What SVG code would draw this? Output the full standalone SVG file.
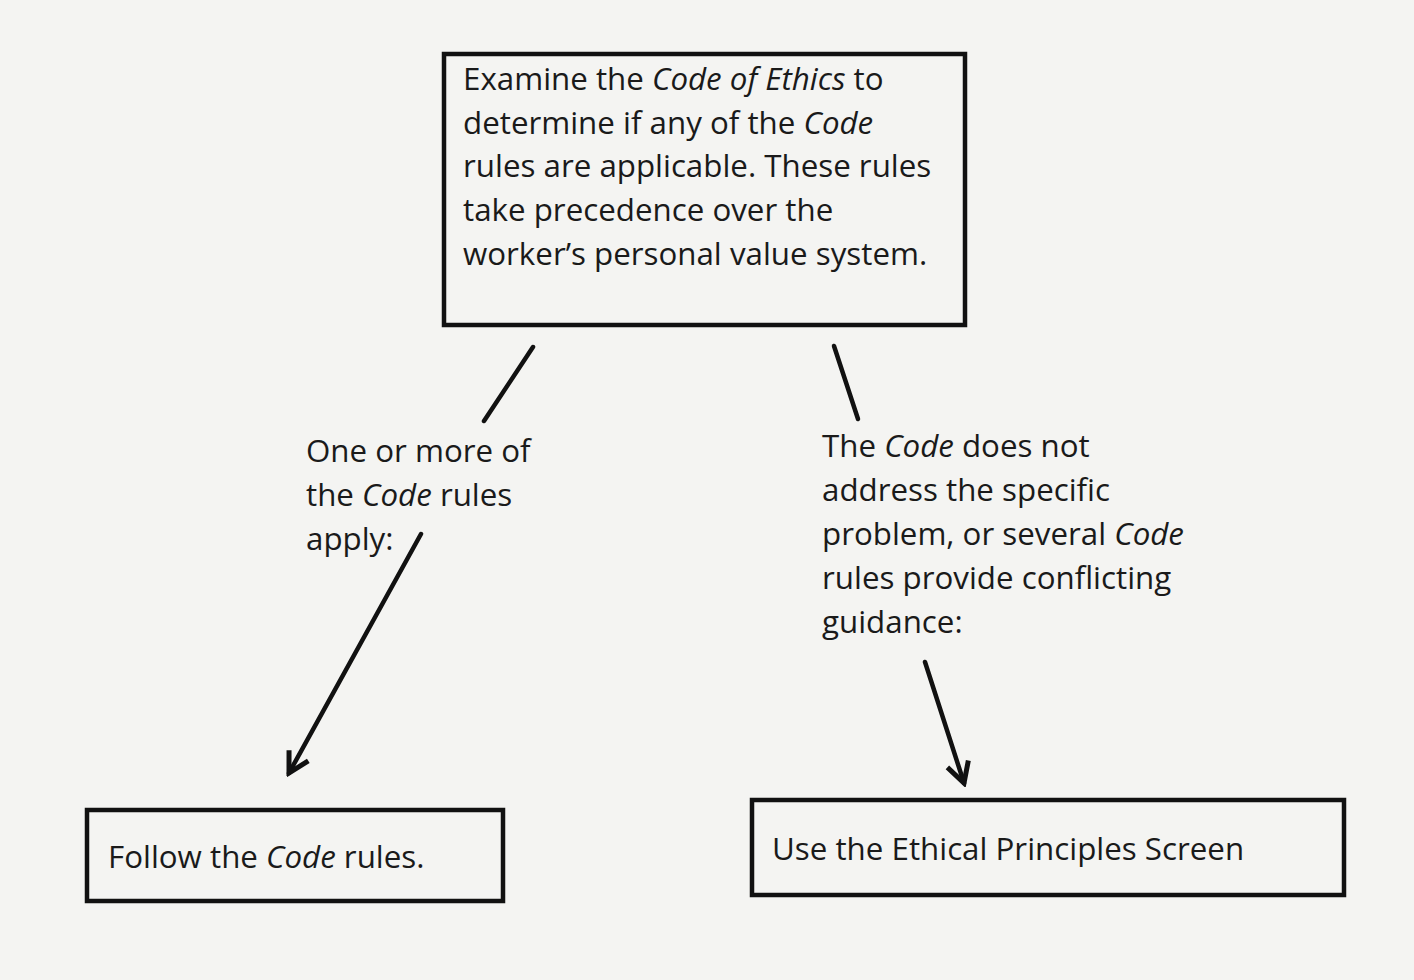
<svg xmlns="http://www.w3.org/2000/svg" width="1414" height="980" viewBox="0 0 1414 980">
<style>
.box{fill:none;stroke:#111;stroke-width:4.5}
.t{font-family:"Open Sans",Lato,sans-serif;font-size:31.3px;fill:#1a1a1a}
.i{font-style:italic}
.ln{stroke:#111;stroke-width:4.5;fill:none;stroke-linecap:round}
</style>
<defs>
<marker id="ah" viewBox="0 0 30 30" refX="26" refY="15" markerWidth="30" markerHeight="30" markerUnits="userSpaceOnUse" orient="auto">
<path d="M6,4 L26,15 L6,26" fill="none" stroke="#111" stroke-width="5" stroke-linejoin="miter"/>
</marker>
</defs>
<rect width="1414" height="980" fill="#f4f4f2"/>
<g id="node-top">
<rect class="box" x="444" y="54" width="521" height="271"/>
<text class="t" x="463" y="90">Examine the <tspan class="i">Code of Ethics</tspan> to</text>
<text class="t" x="463" y="134">determine if any of the <tspan class="i">Code</tspan></text>
<text class="t" x="463" y="177">rules are applicable. These rules</text>
<text class="t" x="463" y="221">take precedence over the</text>
<text class="t" x="463" y="265">worker’s personal value system.</text>
</g>
<g id="node-follow">
<rect class="box" x="87" y="810" width="416" height="91"/>
<text class="t" x="108" y="868">Follow the <tspan class="i">Code</tspan> rules.</text>
</g>
<g id="node-screen">
<rect class="box" x="752" y="800" width="592" height="95"/>
<text class="t" x="772" y="860">Use the Ethical Principles Screen</text>
</g>
<g id="label-apply">
<text class="t" x="306" y="462">One or more of</text>
<text class="t" x="306" y="506">the <tspan class="i">Code</tspan> rules</text>
<text class="t" x="306" y="550">apply:</text>
</g>
<g id="label-notaddress">
<text class="t" x="822" y="457">The <tspan class="i">Code</tspan> does not</text>
<text class="t" x="822" y="501">address the specific</text>
<text class="t" x="822" y="545">problem, or several <tspan class="i">Code</tspan></text>
<text class="t" x="822" y="589">rules provide conflicting</text>
<text class="t" x="822" y="633">guidance:</text>
</g>
<g id="connectors">
<line class="ln" x1="533" y1="347" x2="484" y2="421"/>
<line class="ln" x1="834" y1="346" x2="858" y2="419"/>
<line class="ln" x1="421" y1="534" x2="289" y2="773" marker-end="url(#ah)"/>
<line class="ln" x1="925" y1="662" x2="964" y2="783" marker-end="url(#ah)"/>
</g>
</svg>
